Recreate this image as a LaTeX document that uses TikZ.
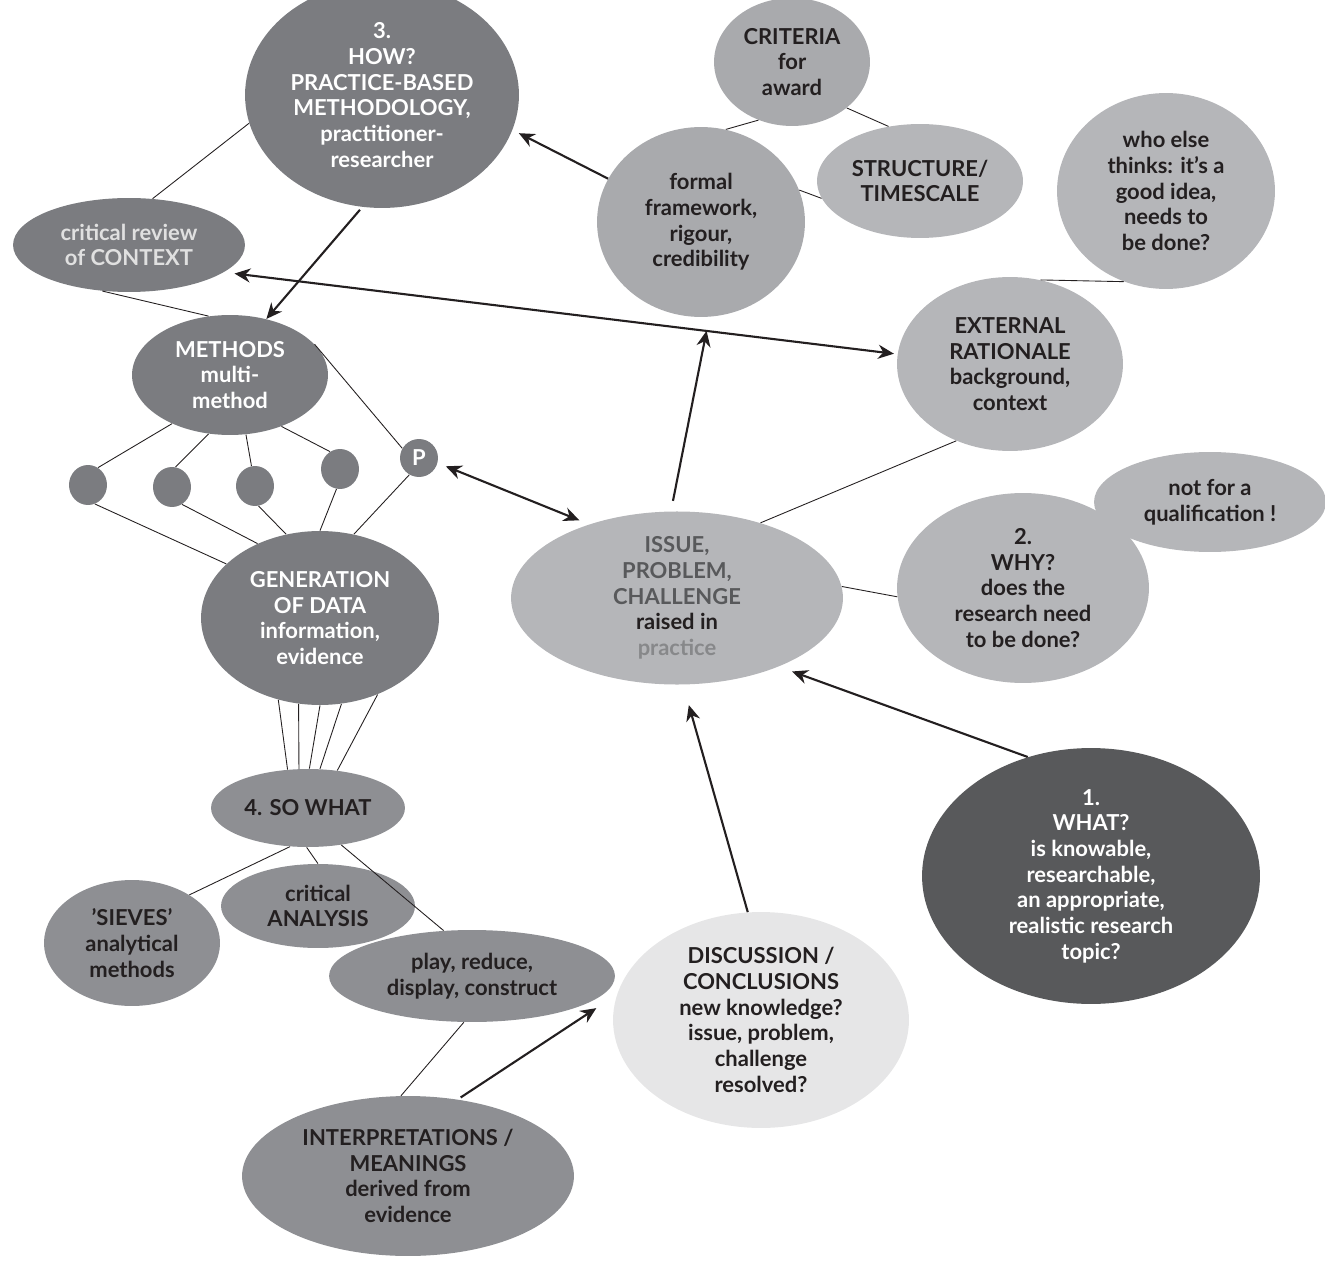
\documentclass[tikz,border=0pt]{standalone}
\usepackage{fontspec}
\setmainfont{Lato}
\usetikzlibrary{arrows.meta,shapes.geometric}
\definecolor{dk}{HTML}{7B7C80}
\definecolor{md}{HTML}{8E8F93}
\definecolor{lt}{HTML}{B5B6B9}
\definecolor{lt2}{HTML}{A9AAAD}
\definecolor{vd}{HTML}{58595B}
\definecolor{vl}{HTML}{E6E6E7}
\definecolor{tx}{HTML}{231F20}
\begin{document}
\begin{tikzpicture}[x=0.02cm,y=-0.02cm,
  ell/.style 2 args={ellipse,inner sep=0pt,minimum width=#1*0.04cm,minimum height=#2*0.04cm,align=center,font=\fontsize{12.5}{14.6}\selectfont\bfseries,text=tx},
  thin/.style={line width=0.5pt,draw=tx},
  arr/.style={line width=1.2pt,draw=tx,-{Stealth[length=9pt,width=8pt]}},
  darr/.style={line width=1.2pt,draw=tx,{Stealth[length=9pt,width=8pt]}-{Stealth[length=9pt,width=8pt]}}]
\useasboundingbox (0,0) rectangle (1325,1270);
% nodes
\node[ell={137}{113},fill=dk,text=white] (how) at (382,95) {3.\\HOW?\\PRACTICE-BASED\\METHODOLOGY,\\practitioner-\\researcher};
\node[ell={116}{47},fill=dk,text=white!88!black] (crit) at (129,245) {critical review\\of CONTEXT};
\node[ell={98}{60},fill=dk,text=white] (meth) at (230,375) {METHODS\\multi-\\method};
\node[ell={19}{20},fill=dk] (c1) at (88,485) {};
\node[ell={19}{20},fill=dk] (c2) at (172,487) {};
\node[ell={19}{20},fill=dk] (c3) at (255,486) {};
\node[ell={19}{20},fill=dk] (c4) at (340,469) {};
\node[ell={19}{19},fill=dk,text=white] (p) at (419,458) {P};
\node[ell={119}{87},fill=dk,text=white] (gen) at (320,618) {GENERATION\\OF DATA\\information,\\evidence};
\node[ell={97}{39},fill=md] (sw) at (308,808) {4. SO WHAT};
\node[ell={88}{63},fill=md] (sieves) at (132,943) {'SIEVES'\\analytical\\methods};
\node[ell={97}{42},fill=md] (ana) at (318,906) {critical\\ANALYSIS};
\node[ell={143}{46},fill=md] (play) at (472,976) {play, reduce,\\display, construct};
\node[ell={166}{80},fill=md] (interp) at (408,1176) {INTERPRETATIONS /\\MEANINGS\\derived from\\evidence};
\node[ell={148}{108},fill=vl] (disc) at (761,1020) {DISCUSSION /\\CONCLUSIONS\\new knowledge?\\issue, problem,\\challenge\\resolved?};
\node[ell={169}{128},fill=vd,text=white] (what) at (1091,876) {1.\\WHAT?\\is knowable,\\researchable,\\an appropriate,\\realistic research\\topic?};
\node[ell={166}{80},fill=lt] (issue) at (677,598) {\textcolor{vd}{ISSUE,}\\\textcolor{vd}{PROBLEM,}\\\textcolor{vd}{CHALLENGE}\\raised in\\\textcolor{lt2!80!black}{practice}};
\node[ell={126}{95},fill=lt] (why) at (1023,588) {2.\\WHY?\\does the\\research need\\to be done?};
\node[ell={116}{50},fill=lt] (notfor) at (1210,502) {not for a\\qualification !};
\node[ell={113}{87},fill=lt] (ext) at (1010,364) {EXTERNAL\\RATIONALE\\background,\\context};
\node[ell={109}{98},fill=lt] (who) at (1166,191) {who else\\thinks: it's a\\good idea,\\needs to\\be done?};
\node[ell={104}{95},fill=lt2] (formal) at (701,222) {formal\\framework,\\rigour,\\credibility};
\node[ell={78}{64},fill=lt2] (crite) at (792,62) {CRITERIA\\for\\award};
\node[ell={103}{57},fill=lt] (struct) at (920,181) {STRUCTURE/\\TIMESCALE};
% thin connectors
\draw[thin] (how.192) -- (crit.63);
\draw[thin] (crit.-120) -- (meth.110);
\draw[thin] (meth.220) -- (c1.60);
\draw[thin] (meth.250) -- (c2.80);
\draw[thin] (meth.285) -- (c3.100);
\draw[thin] (meth.315) -- (c4.120);
\draw[thin] (meth.20) -- (p.150);
\draw[thin] (c1.-70) -- (gen.150);
\draw[thin] (c2.-60) -- (gen.130);
\draw[thin] (c3.-80) -- (gen.112);
\draw[thin] (c4.-100) -- (gen.90);
\draw[thin] (p.-120) -- (gen.68);
\draw[thin] (gen.243) -- (sw.118);
\draw[thin] (gen.256) -- (sw.103);
\draw[thin] (gen.270) -- (sw.88);
\draw[thin] (gen.284) -- (sw.73);
\draw[thin] (gen.307) -- (sw.52);
\draw[thin] (sw.-115) -- (sieves.40);
\draw[thin] (sw.-92) -- (ana.90);
\draw[thin] (sw.-48) -- (play.122);
\draw[thin] (play.-100) -- (interp.95);
\draw[thin] (crite.-120) -- (formal.75);
\draw[thin] (crite.-40) -- (struct.120);
\draw[thin] (formal.18) -- (struct.190);
\draw[thin] (who.-115) -- (ext.70);
\draw[thin] (ext.-125) -- (issue.42);
\draw[thin] (issue.4) -- (why.184);
% arrows
\draw[arr,shorten >=4pt] (formal.155) -- (how.-15);
\draw[arr,shorten <=2pt] (how.-100) -- (meth.57);
\draw[darr,shorten <=6pt,shorten >=2pt] (crit.-16) -- (ext.175);
\draw[darr,shorten <=5pt,shorten >=6pt] (p.-15) -- (issue.140);
\draw[arr,shorten <=6pt,shorten >=8pt] (issue.94) -- (formal.-85);
\draw[arr,shorten >=8pt] (what.118) -- (issue.-34);
\draw[arr,shorten >=12pt] (disc.97) -- (issue.-86);
\draw[arr,shorten <=2pt,shorten >=14pt] (interp.57) -- (disc.170);
\end{tikzpicture}
\end{document}
